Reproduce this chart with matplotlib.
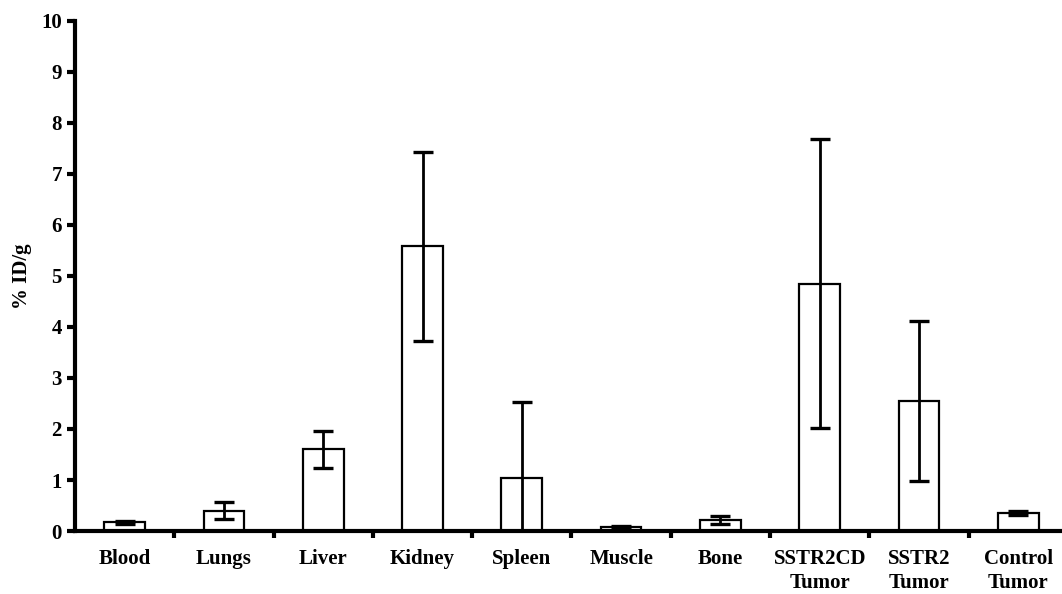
import matplotlib
matplotlib.use("Agg")
import matplotlib.pyplot as plt
import numpy as np

categories = ["Blood", "Lungs", "Liver", "Kidney", "Spleen", "Muscle", "Bone",
              "SSTR2CD\nTumor", "SSTR2\nTumor", "Control\nTumor"]
values = [0.17, 0.40, 1.60, 5.58, 1.03, 0.07, 0.22, 4.85, 2.55, 0.35]
errors = [0.03, 0.17, 0.37, 1.85, 1.50, 0.02, 0.08, 2.84, 1.56, 0.04]
yticks = list(range(0, 11))

plt.rcParams['font.family'] = ['Liberation Serif', 'DejaVu Serif']
plt.rcParams['font.weight'] = 'bold'

fig = plt.figure(figsize=(10.62, 5.94), dpi=100)
ax = fig.add_axes([0.0706, 0.106, 0.935, 0.859])

x = np.arange(len(categories))
ax.bar(x, values, width=0.41, color='white', edgecolor='black', linewidth=1.6, zorder=2)
ax.errorbar(x, values, yerr=errors, fmt='none', ecolor='black', elinewidth=2.0,
            capsize=7.0, capthick=2.4, zorder=3)

ax.set_ylim(0, 10)
ax.set_xlim(-0.5, 9.5)
ax.set_yticks(yticks)
ax.set_yticklabels([str(t) for t in yticks], fontsize=15, fontweight='bold')
ax.set_ylabel("% ID/g", fontsize=15, fontweight='bold')
ax.yaxis.set_label_coords(-0.043, 0.5)

# ticks at category boundaries, labels at centres
ax.set_xticks(np.arange(0.5, 9.5, 1.0))
ax.set_xticklabels([])
ax.tick_params(axis='x', which='major', direction='out', length=5, width=3)
ax.set_xticks(x, minor=True)
ax.set_xticklabels(categories, minor=True, fontsize=15, fontweight='bold', linespacing=1.25)
ax.tick_params(axis='x', which='minor', length=0, pad=13)
ax.tick_params(axis='y', direction='out', length=5.5, width=3, pad=4)

for s in ['top', 'right']:
    ax.spines[s].set_visible(False)
ax.spines['left'].set_linewidth(3)
ax.spines['bottom'].set_linewidth(3)
ax.spines['bottom'].set_zorder(4)

fig.savefig("out.png", dpi=100)
